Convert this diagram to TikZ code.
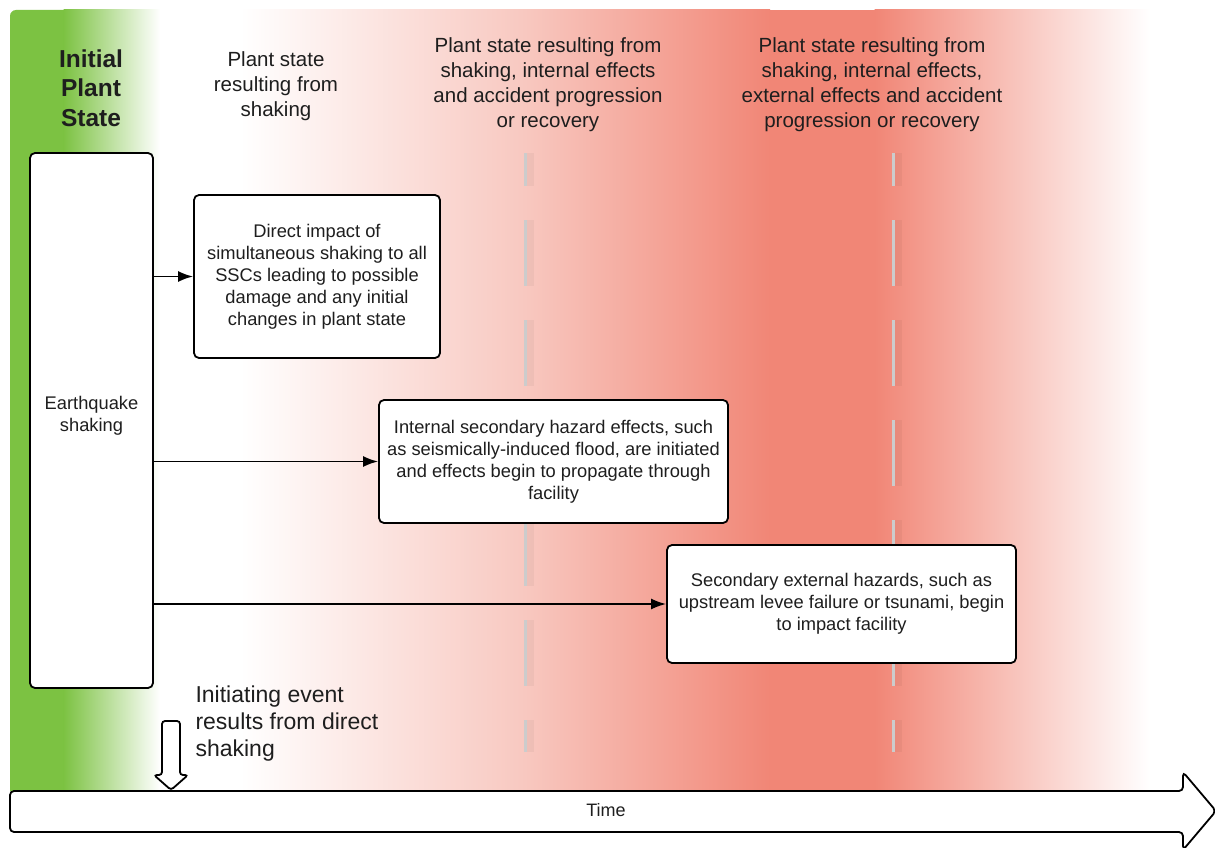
\documentclass[tikz,border=0pt]{standalone}
\usepackage{fontspec}
\setmainfont{Liberation Sans}
\usetikzlibrary{arrows.meta}
\definecolor{grn}{RGB}{124,194,66}
\definecolor{salmon}{RGB}{241,134,118}
\definecolor{pinkmid}{RGB}{248,200,192}
\definecolor{dashgray}{RGB}{204,204,204}
\definecolor{txt}{RGB}{30,30,30}
\tikzset{
  box/.style={draw=black, line width=1.8pt, fill=white, rounded corners=5pt,
    align=center, inner sep=0pt, text=txt, font=\fontsize{18.3}{22}\selectfont},
  head/.style={align=center, text=txt, font=\fontsize{20.5}{25}\selectfont},
  link/.style={line width=1.8pt, -{Latex[length=15pt,width=11pt]}},
  outline/.style={draw=black, line width=1.8pt, fill=white},
  vdash/.style={draw=dashgray, line width=3pt, dash pattern=on 66pt off 34pt, dash phase=33pt},
  vshadow/.style={draw=black, draw opacity=0.04, line width=10pt, dash pattern=on 66pt off 34pt, dash phase=33pt}
}
\begin{document}
\begin{tikzpicture}[x=1pt,y=-1pt]
\useasboundingbox (0,0) rectangle (1215,848);
\fill[white] (0,0) rectangle (1215,848);
% background bands
\fill[grn] (10,791) -- (10,16) arc[start angle=180,end angle=270,radius=6] -- (64,10) -- (64,791) -- cycle;
\shade[left color=grn, right color=white] (63.5,10) rectangle (160,791);
\shade[left color=white, right color=pinkmid] (240,10) rectangle (525,791);
\shade[left color=pinkmid, right color=salmon] (524.5,10) rectangle (770,791);
\fill[salmon] (769.5,10) rectangle (875,791);
\shade[left color=salmon, right color=white] (874.5,10) rectangle (1150,791);
% dashed separators
\coordinate (d1t) at (525,153); \coordinate (d1b) at (525,752);
\coordinate (d2t) at (893,153); \coordinate (d2b) at (893,752);
\draw[vshadow] ([xshift=4pt]d1t) -- ([xshift=4pt]d1b);
\draw[vshadow] ([xshift=4pt]d2t) -- ([xshift=4pt]d2b);
\draw[vdash] (d1t) -- (d1b);
\draw[vdash] (d2t) -- (d2b);
% headers
\node[head, font=\bfseries\fontsize{24.5}{29.5}\selectfont] (h0) at (91,88) {Initial\\Plant\\State};
\node[head] (h1) at (276,86) {Plant state\\resulting from\\shaking};
\node[head] (h2) at (548,85) {Plant state resulting from\\shaking, internal effects\\and accident progression\\or recovery};
\node[head] (h3) at (872,85) {Plant state resulting from\\shaking, internal effects,\\external effects and accident\\progression or recovery};
% boxes
\node[box, minimum width=123pt, minimum height=535pt] (eq) at (91.5,420.5) {};
\node[text=txt, align=center, font=\fontsize{18.3}{22}\selectfont] (eqt) at (91.5,416) {Earthquake\\shaking};
\node[box, minimum width=246pt, minimum height=163pt] (b1) at (317,276.5)
  {Direct impact of\\simultaneous shaking to all\\SSCs leading to possible\\damage and any initial\\changes in plant state};
\node[box, minimum width=349pt, minimum height=123pt] (b2) at (553.5,461.5)
  {Internal secondary hazard effects, such\\as seismically-induced flood, are initiated\\and effects begin to propagate through\\facility};
\node[box, minimum width=349pt, minimum height=118pt] (b3) at (841.5,604)
  {Secondary external hazards, such as\\upstream levee failure or tsunami, begin\\to impact facility};
% connectors
\draw[link] (eq.east |- b1.west) -- (b1.west);
\draw[link] (eq.east |- b2.west) -- (b2.west);
\draw[link] (eq.east |- b3.west) -- (b3.west);
% time arrow
\draw[outline, rounded corners=4pt] (10,791) -- (1183,791) -- (1183,772) -- (1216,811) -- (1183,850) -- (1183,832) -- (10,832) -- cycle;
\node[text=txt, font=\fontsize{18}{20}\selectfont] (time) at (606,810) {Time};
% initiating event marker
\draw[outline, rounded corners=3pt] (162,775) -- (162,721) -- (180,721) -- (180,775) -- (188,775) -- (171,790) -- (154,775) -- cycle;
\node[text=txt, align=left, anchor=west, font=\fontsize{23}{27}\selectfont] (ie) at (192,724) {Initiating event\\results from direct\\shaking};
\end{tikzpicture}
\end{document}
